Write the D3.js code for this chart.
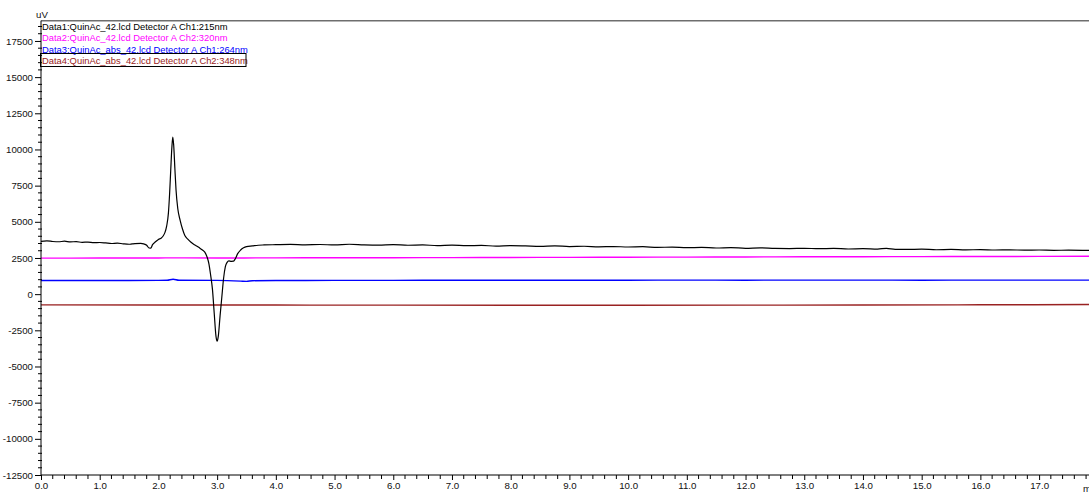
<!DOCTYPE html>
<html>
<head>
<meta charset="utf-8">
<script src="https://cdn.jsdelivr.net/npm/d3@7"></script>
<style>
  html, body { margin: 0; padding: 0; background: #fff; }
  svg { display: block; }
  text { font-family: "Liberation Sans", Arial, sans-serif; }
</style>
</head>
<body>
<svg id="chart" width="1089" height="495"></svg>
<script>
// Chromatogram traces: retention time (min) and detector signal (uV)
const data1Time = [0.00,0.10,0.20,0.30,0.40,0.50,0.60,0.70,0.80,0.90,1.00,1.10,1.20,1.30,1.40,1.50,1.55,1.60,1.70,1.75,1.80,1.84,1.87,1.90,1.95,2.00,2.05,2.08,2.11,2.14,2.17,2.19,2.21,2.23,2.245,2.26,2.28,2.30,2.33,2.37,2.41,2.45,2.50,2.55,2.60,2.65,2.70,2.75,2.79,2.83,2.86,2.89,2.92,2.95,2.98,3.00,3.02,3.05,3.08,3.11,3.14,3.17,3.20,3.24,3.28,3.31,3.35,3.40,3.45,3.50,3.60,3.70,3.80,4.00,4.25,4.50,4.75,5.00,5.25,5.50,5.75,6.00,6.25,6.50,6.75,7.00,7.25,7.50,7.75,8.00,8.25,8.50,8.75,9.00,9.25,9.50,9.75,10.00,10.25,10.50,10.75,11.00,11.25,11.50,11.75,12.00,12.25,12.50,12.75,13.00,13.25,13.50,13.75,14.00,14.25,14.40,14.55,14.75,15.00,15.25,15.50,15.75,16.00,16.25,16.50,16.75,17.00,17.25,17.50,17.85];
const data1Value = [3650,3680,3640,3620,3660,3610,3630,3580,3600,3560,3570,3540,3500,3530,3480,3450,3470,3490,3510,3470,3380,3190,3180,3420,3620,3780,3880,4020,4250,4700,5600,6900,8600,10200,10850,10300,8700,7200,5900,5100,4500,4050,3800,3600,3450,3330,3200,3050,2900,2550,2100,1300,350,-1300,-2900,-3250,-2900,-1500,-200,1100,1900,2200,2300,2270,2280,2450,2800,3050,3200,3280,3330,3380,3400,3420,3440,3410,3430,3400,3450,3410,3390,3420,3380,3400,3360,3390,3350,3370,3320,3350,3330,3300,3340,3290,3310,3270,3290,3260,3280,3230,3250,3210,3230,3190,3220,3170,3200,3160,3150,3170,3140,3160,3120,3140,3110,3170,3100,3090,3110,3070,3090,3060,3080,3050,3060,3040,3050,3030,3040,3020];

const data2Time = [0,1,2,2.25,3,4,5,6,7,8,9,10,11,12,13,14,15,16,17,17.85];
const data2Value = [2490,2495,2500,2510,2500,2510,2515,2520,2525,2535,2545,2555,2560,2570,2580,2590,2595,2600,2610,2615];

const data3Time = [0,1,2,2.15,2.25,2.35,3,3.4,3.5,3.6,4,5,6,7,8,9,10,11,12,13,14,15,16,17,17.85];
const data3Value = [940,945,950,960,1030,960,950,900,880,930,945,950,955,960,960,965,965,970,965,970,970,965,970,970,970];

const data4Time = [0,2,4,6,8,10,12,14,16,17.85];
const data4Value = [-740,-745,-755,-760,-765,-770,-760,-750,-735,-720];

const seriesNames = [
  "Data1:QuinAc_42.lcd Detector A Ch1:215nm",
  "Data2:QuinAc_42.lcd Detector A Ch2:320nm",
  "Data3:QuinAc_abs_42.lcd Detector A Ch1:264nm",
  "Data4:QuinAc_abs_42.lcd Detector A Ch2:348nm"
];
const seriesColors = ["#000000", "#ff00ff", "#0000ff", "#992222"];

const yMajorTicks = [-12500,-10000,-7500,-5000,-2500,0,2500,5000,7500,10000,12500,15000,17500];
const xMajorTicks = [0,1,2,3,4,5,6,7,8,9,10,11,12,13,14,15,16,17];

const svg = d3.select("#chart");
const plotLeft = 41, plotRight = 1089, plotTop = 20.7, plotBottom = 475;

const x = d3.scaleLinear().domain([0, 17.85]).range([plotLeft, plotRight]);
const y = d3.scaleLinear().domain([-12500, 18900]).range([plotBottom, plotTop]);

const series = [
  d3.zip(data1Time, data1Value),
  d3.zip(data2Time, data2Value),
  d3.zip(data3Time, data3Value),
  d3.zip(data4Time, data4Value)
];

const line = d3.line()
  .x(d => x(d[0]))
  .y(d => y(d[1]))
  .curve(d3.curveMonotoneX);

// traces, drawn back to front so the black trace sits on top
const order = [3, 2, 1, 0];
svg.append("g")
  .selectAll("path")
  .data(order)
  .join("path")
  .attr("d", i => line(series[i]))
  .attr("fill", "none")
  .attr("stroke", i => seriesColors[i])
  .attr("stroke-width", i => i === 0 ? 1.2 : 1.4)
  .attr("stroke-linejoin", "round");

// top frame line
svg.append("line")
  .attr("x1", plotLeft).attr("x2", plotRight)
  .attr("y1", plotTop).attr("y2", plotTop)
  .attr("stroke", "#6e6e6e").attr("stroke-width", 1.6);

// plain hyphen for negative tick labels
const intFormat = d => String(d);

// y axis with minor ticks every 500
const yMinor = d3.range(-12500, 18501, 500).filter(v => v % 2500 !== 0);
const yAxis = svg.append("g").attr("transform", `translate(${plotLeft},0)`);
yAxis.call(d3.axisLeft(y).tickValues(yMajorTicks).tickSize(6).tickPadding(2).tickFormat(intFormat));
yAxis.select(".domain").remove();
yAxis.selectAll(".tick line").attr("stroke", "#000");
yAxis.selectAll(".tick text").attr("fill", "#111").style("font-size", "9.7px");
yAxis.append("g").selectAll("line").data(yMinor).join("line")
  .attr("x1", -3).attr("x2", 1)
  .attr("y1", d => y(d)).attr("y2", d => y(d))
  .attr("stroke", "#000");
yAxis.append("line").attr("x1", 0).attr("x2", 0).attr("y1", plotTop).attr("y2", plotBottom).attr("stroke", "#000");

// x axis with minor ticks every 0.2 min
const xMinor = d3.range(0, 17.85, 0.2).map(v => +v.toFixed(1)).filter(v => Math.abs(v - Math.round(v)) > 1e-6);
const xAxis = svg.append("g").attr("transform", `translate(0,${plotBottom})`);
xAxis.call(d3.axisBottom(x).tickValues(xMajorTicks).tickSize(5).tickPadding(2).tickFormat(d3.format(".1f")));
xAxis.select(".domain").remove();
xAxis.selectAll(".tick line").attr("stroke", "#000");
xAxis.selectAll(".tick text").attr("fill", "#111").style("font-size", "9.7px");
xAxis.append("g").selectAll("line").data(xMinor).join("line")
  .attr("x1", d => x(d)).attr("x2", d => x(d))
  .attr("y1", 0).attr("y2", 4)
  .attr("stroke", "#000");
xAxis.append("line").attr("x1", plotLeft).attr("x2", plotRight).attr("y1", 0).attr("y2", 0).attr("stroke", "#000");

// axis units
svg.append("text").attr("x", 36).attr("y", 18).attr("fill", "#111").style("font-size", "9.7px").text("uV");
svg.append("text").attr("x", 1083).attr("y", 491.5).attr("fill", "#111").style("font-size", "9.7px").text("min");

// legend
const legend = svg.append("g");
legend.selectAll("text").data(seriesNames).join("text")
  .attr("x", 42)
  .attr("y", (d, i) => 29.5 + i * 11.6)
  .attr("fill", (d, i) => seriesColors[i])
  .style("font-size", "9.4px")
  .text(d => d);
legend.append("rect")
  .attr("x", 40.5).attr("y", 53.5).attr("width", 205.5).attr("height", 13)
  .attr("fill", "none").attr("stroke", "#000").attr("stroke-width", 1);
</script>
</body>
</html>
